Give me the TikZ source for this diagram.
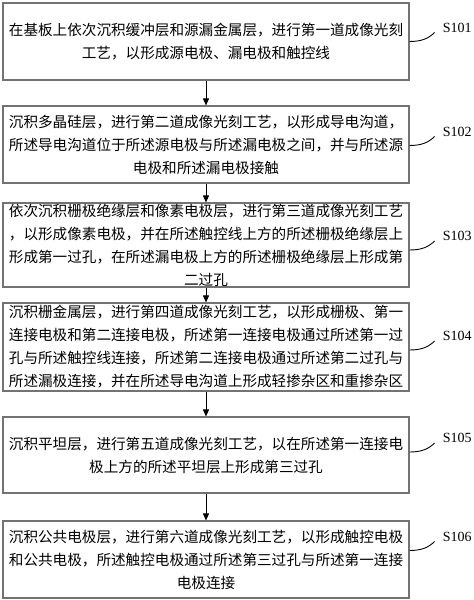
\documentclass[tikz,border=0pt]{standalone}
\usepackage{fontspec}
\setmainfont{Liberation Serif}
\newfontfamily\cjk{Noto Sans CJK SC}
\usetikzlibrary{arrows.meta}
\begin{document}
\begin{tikzpicture}[x=1pt,y=-1pt,
  stepbox/.style={draw=black!55,line width=1.1pt,minimum width=406pt,inner sep=0pt,align=center,
    font=\cjk\fontsize{14.6}{23}\selectfont},
  flow/.style={-{Triangle[length=7pt,width=6pt]},line width=0.9pt,black},
  tag/.style={font=\fontsize{14}{15}\selectfont,anchor=west,inner sep=0pt},
  leader/.style={line width=0.9pt,black}]
\useasboundingbox (0,0) rectangle (474,600);
\node[stepbox,minimum height=77pt] (b1) at (206,41.5) {在基板上依次沉积缓冲层和源漏金属层，进行第一道成像光刻\\工艺，以形成源电极、漏电极和触控线};
\node[stepbox,minimum height=77pt] (b2) at (206,144.5) {沉积多晶硅层，进行第二道成像光刻工艺，以形成导电沟道，\\所述导电沟道位于所述源电极与所述漏电极之间，并与所述源\\电极和所述漏电极接触};
\node[stepbox,minimum height=84pt] (b3) at (206,245) {依次沉积栅极绝缘层和像素电极层，进行第三道成像光刻工艺\\，以形成像素电极，并在所述触控线上方的所述栅极绝缘层上\\形成第一过孔，在所述漏电极上方的所述栅极绝缘层上形成第\\二过孔};
\node[stepbox,minimum height=88pt] (b4) at (206,347) {沉积栅金属层，进行第四道成像光刻工艺，以形成栅极、第一\\连接电极和第二连接电极，所述第一连接电极通过所述第一过\\孔与所述触控线连接，所述第二连接电极通过所述第二过孔与\\所述漏极连接，并在所述导电沟道上形成轻掺杂区和重掺杂区};
\node[stepbox,minimum height=76pt] (b5) at (206,455) {沉积平坦层，进行第五道成像光刻工艺，以在所述第一连接电\\极上方的所述平坦层上形成第三过孔};
\node[stepbox,minimum height=77pt] (b6) at (206,559.5) {沉积公共电极层，进行第六道成像光刻工艺，以形成触控电极\\和公共电极，所述触控电极通过所述第三过孔与所述第一连接\\电极连接};
\draw[flow] (b1.south) -- (b2.north);
\draw[flow] (b2.south) -- (b3.north);
\draw[flow] (b3.south) -- (b4.north);
\draw[flow] (b4.south) -- (b5.north);
\draw[flow] (b5.south) -- (b6.north);
\foreach \b/\s/\dy in {b1/S101/0,b2/S102/1,b3/S103/5,b4/S104/3,b5/S105/-3,b6/S106/-9}{
  \coordinate (\b s) at ([yshift=-\dy pt]\b.east);
  \coordinate (\b e) at ([xshift=25pt,yshift=9pt]\b s);
  \draw[leader] (\b s) .. controls ([xshift=12pt]\b s) and ([xshift=19pt,yshift=3pt]\b s) .. (\b e);
  \node[tag] (\b t) at ([xshift=8pt,yshift=5pt]\b e) {\s};
}
\end{tikzpicture}
\end{document}
